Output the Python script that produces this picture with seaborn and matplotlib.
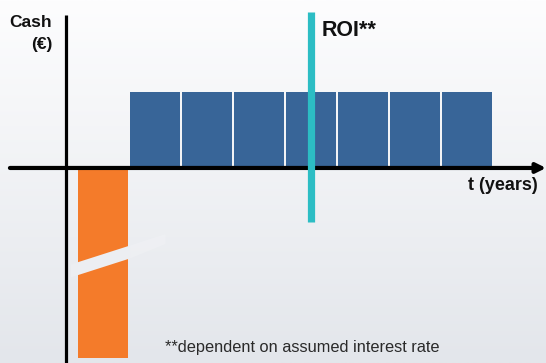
import numpy as np
import pandas as pd
import matplotlib
matplotlib.use("Agg")
import matplotlib.pyplot as plt
import seaborn as sns
from matplotlib.colors import LinearSegmentedColormap

# ---- data ----
periods = [0, 1, 2, 3, 4, 5, 6, 7]
cash = [-2.5, 1, 1, 1, 1, 1, 1, 1]
kind = ["investment", "return", "return", "return", "return", "return", "return", "return"]
roi_period = 4
y_label = ["Cash", "(€)"]
x_label = "t (years)"
roi_label = "ROI**"
footnote = "**dependent on assumed interest rate"

sns.set_theme(style="white")
plt.rcParams["font.family"] = ["Liberation Sans", "DejaVu Sans"]

df = pd.DataFrame({"period": periods, "cash": cash, "kind": kind})

fig = plt.figure(figsize=(5.46, 3.63), dpi=100)
ax = fig.add_axes([0, 0, 1, 1])

xmin, xmax = -1.981, 8.519
ymin, ymax = -2.566, 2.21

# background gradient: light grey at bottom, white at top
grad = np.linspace(0, 1, 256).reshape(-1, 1)
bg_cmap = LinearSegmentedColormap.from_list("bg", ["#e3e6eb", "#fdfdfe"])
ax.imshow(grad, extent=[xmin, xmax, ymin, ymax], aspect="auto", cmap=bg_cmap,
          zorder=0, origin="lower")

sns.barplot(data=df, x="period", y="cash", hue="kind",
            palette={"investment": "#f47b2a", "return": "#386598"},
            dodge=False, width=0.96, legend=False, ax=ax, zorder=2,
            linewidth=0, saturation=1)

ax.set_xlim(xmin, xmax)
ax.set_ylim(ymin, ymax)
ax.set_axis_off()

# break mark on the truncated investment bar
bx = [-0.62, 0.52, 0.52, -0.62]
by = [-1.44, -1.19, -1.02, -1.27]
ax.fill(bx, by, color="#eceef2", zorder=3, lw=0)
ax.fill([0.52, 1.2, 1.2, 0.52], [-1.19, -1.0, -0.87, -1.02], color="#f4f5f8",
        alpha=0.35, zorder=3, lw=0)

# x axis with arrow
ax.annotate("", xy=(xmax, 0), xytext=(-1.79, 0),
            arrowprops=dict(arrowstyle="-|>", lw=3, color="black",
                            mutation_scale=14, shrinkA=0, shrinkB=0),
            zorder=4)
# y axis
ax.plot([-0.712, -0.712], [2.01, ymin], color="black", lw=2.3, zorder=4,
        solid_capstyle="butt")

# ROI line
ax.plot([roi_period, roi_period], [-0.71, 2.05], color="#2cbdc4", lw=5.2,
        zorder=5, solid_capstyle="butt")

# texts
ax.text(-0.98, 1.92, y_label[0], ha="right", va="center", fontsize=12.5,
        fontweight="bold", color="#111111")
ax.text(-0.98, 1.63, y_label[1], ha="right", va="center", fontsize=12.5,
        fontweight="bold", color="#111111")
ax.text(roi_period + 0.2, 1.81, roi_label, ha="left", va="center",
        fontsize=15.5, fontweight="bold", color="#111111")
ax.text(8.36, -0.23, x_label, ha="right", va="center", fontsize=13,
        fontweight="bold", color="#111111")
ax.text(1.2, -2.36, footnote, ha="left", va="center", fontsize=11.8,
        color="#2a2a2a")

fig.savefig("out.png", dpi=100)
